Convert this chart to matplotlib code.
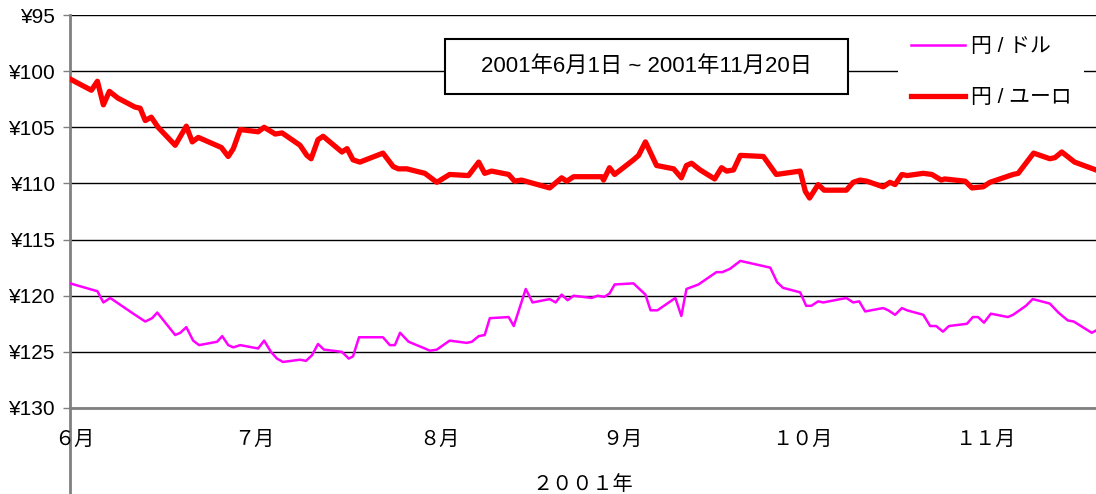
import matplotlib
matplotlib.use("Agg")
import matplotlib.pyplot as plt
from matplotlib.patches import Rectangle

plt.rcParams['font.family'] = ['Liberation Sans', 'Noto Sans CJK JP', 'DejaVu Sans']

# trading-session index (about 120 sessions from 1 Jun to 20 Nov 2001)
euro_t = [0, 2.5, 3.2, 3.9, 4.6, 5.6, 7.6, 8.2, 8.8, 9.5, 10.3, 12.3, 13.6, 14.3, 15.0,
          17.7, 18.5, 19.1, 19.9, 22.0, 22.7, 24.0, 24.8, 26.9, 27.7, 28.2, 29.0, 29.6,
          31.8, 32.4, 33.1, 33.9, 36.6, 37.8, 38.4, 39.4, 41.5, 42.9, 44.4, 46.6, 47.8,
          48.5, 49.3, 51.3, 52.0, 52.8, 56.1, 57.5, 58.1, 58.9, 62.2, 62.4, 63.1, 63.7,
          65.9, 66.5, 67.3, 68.6, 70.6, 71.5, 72.1, 72.7, 73.7, 75.4, 76.2, 76.8, 77.6,
          78.4, 81.1, 82.6, 85.4, 86.0, 86.5, 87.5, 88.2, 90.8, 91.6, 92.4, 93.2, 95.1,
          95.9, 96.5, 97.3, 97.9, 99.8, 100.8, 101.9, 102.3, 104.7, 105.5, 106.8, 107.6,
          110.3, 110.9, 112.7, 114.6, 115.2, 116.0, 117.5, 120.0]
euro = [100.7, 101.7, 100.9, 103.0, 101.8, 102.4, 103.2, 103.3, 104.4, 104.1, 105.0, 106.6,
        104.9, 106.3, 105.9, 106.8, 107.6, 106.9, 105.2, 105.4, 105.0, 105.6, 105.5, 106.6,
        107.5, 107.8, 106.1, 105.8, 107.2, 106.9, 107.9, 108.1, 107.3, 108.5, 108.7, 108.7,
        109.1, 109.9, 109.2, 109.3, 108.1, 109.1, 108.9, 109.2, 109.8, 109.7, 110.4, 109.5,
        109.8, 109.4, 109.4, 109.7, 108.6, 109.2, 107.9, 107.5, 106.3, 108.4, 108.7, 109.5,
        108.4, 108.2, 108.8, 109.6, 108.6, 108.9, 108.8, 107.5, 107.6, 109.2, 108.9, 110.7,
        111.3, 110.1, 110.6, 110.6, 109.9, 109.7, 109.8, 110.3, 109.9, 110.1, 109.2, 109.3,
        109.1, 109.2, 109.7, 109.6, 109.8, 110.4, 110.3, 109.9, 109.2, 109.1, 107.3, 107.8,
        107.7, 107.2, 108.1, 108.8]

dollar_t = [0, 3.2, 3.9, 4.7, 7.4, 8.8, 9.6, 10.2, 12.3, 12.9, 13.6, 14.4, 15.1, 17.2, 17.8,
            18.5, 19.1, 19.9, 22.0, 22.7, 23.5, 24.2, 24.9, 26.9, 27.6, 28.3, 29.0, 29.7,
            31.8, 32.6, 33.1, 33.8, 36.6, 37.4, 38.0, 38.6, 39.6, 41.5, 42.1, 42.9, 44.4,
            46.4, 47.0, 47.8, 48.5, 49.1, 51.3, 51.9, 53.3, 54.1, 56.1, 56.8, 57.5, 58.2,
            58.9, 61.0, 61.7, 62.5, 63.1, 63.7, 65.9, 67.3, 67.9, 68.7, 70.8, 71.5, 72.1,
            73.5, 75.6, 76.3, 77.2, 78.4, 81.9, 82.7, 83.4, 85.4, 86.1, 86.7, 87.5, 88.1,
            90.8, 91.6, 92.3, 93.0, 95.1, 95.7, 96.5, 97.3, 97.9, 99.8, 100.6, 101.3, 102.1,
            102.8, 104.9, 105.6, 106.2, 106.9, 107.7, 109.7, 110.3, 111.8, 112.6, 114.6,
            115.6, 116.7, 117.4, 119.5, 120.0]
dollar = [118.9, 119.6, 120.6, 120.2, 121.6, 122.3, 122.0, 121.5, 123.5, 123.3, 122.8, 124.0,
          124.4, 124.1, 123.6, 124.4, 124.6, 124.4, 124.7, 124.0, 125.0, 125.6, 125.9, 125.7,
          125.8, 125.3, 124.3, 124.8, 125.0, 125.6, 125.4, 123.7, 123.7, 124.4, 124.4, 123.3,
          124.1, 124.7, 124.9, 124.8, 124.0, 124.2, 124.1, 123.6, 123.5, 122.0, 121.9, 122.7,
          119.4, 120.6, 120.3, 120.6, 119.9, 120.4, 120.0, 120.2, 120.0, 120.1, 119.8, 119.0,
          118.9, 119.9, 121.3, 121.3, 120.2, 121.8, 119.4, 119.0, 117.9, 117.9, 117.6, 116.9,
          117.5, 118.8, 119.3, 119.7, 120.9, 120.9, 120.5, 120.6, 120.2, 120.6, 120.5, 121.4,
          121.1, 121.3, 121.7, 121.1, 121.3, 121.7, 122.7, 122.7, 123.2, 122.7, 122.5, 121.9,
          121.9, 122.4, 121.6, 121.9, 121.7, 120.9, 120.3, 120.7, 121.5, 122.2, 122.3, 123.3,
          123.1]

month_t = [0.5, 21.6, 43.2, 64.6, 85.6, 107.0]
month_labels = ["６月", "７月", "８月", "９月", "１０月", "１１月"]
yticks = [95, 100, 105, 110, 115, 120, 125, 130]

fig = plt.figure(figsize=(10.96, 4.94), dpi=100)
ax = fig.add_axes([0.0639, 0.1741, 0.9361, 0.7955])

ax.plot(dollar_t, dollar, color="#ff00ff", lw=1.8, label="円 / ドル", zorder=3)
ax.plot(euro_t, euro, color="#ff0000", lw=3.8, label="円 / ユーロ", zorder=3)

ax.set_xlim(0, 120)
ax.set_ylim(130, 95)
ax.set_yticks(yticks)
ax.set_yticklabels([f"¥{v}" for v in yticks], fontsize=15)
ax.yaxis.grid(True, color="black", lw=1)
ax.set_axisbelow(True)
ax.tick_params(axis="y", direction="out", length=5, width=1, color="#808080", pad=6)
ax.set_xticks([])

for side in ["top", "right"]:
    ax.spines[side].set_visible(False)
ax.spines["bottom"].set_color("#808080")
ax.spines["bottom"].set_linewidth(2)
ax.spines["left"].set_color("#808080")
ax.spines["left"].set_linewidth(2)
ax.spines["left"].set_bounds(95, 137.8)

for t, lab in zip(month_t, month_labels):
    ax.text(t, -0.055, lab, transform=ax.get_xaxis_transform(), ha="center", va="top",
            fontsize=14.5)
ax.text(0.5, -0.17, "２００１年", transform=ax.transAxes, ha="center", va="top", fontsize=14.5)

# period box
ax.add_patch(Rectangle((0.365, 0.8), 0.393, 0.14, transform=ax.transAxes,
                       facecolor="white", edgecolor="black", lw=1.5, zorder=4))
ax.text(0.5615, 0.87, "2001年6月1日 ~ 2001年11月20日", transform=ax.transAxes,
        ha="center", va="center", fontsize=16, zorder=5)

leg = ax.legend(loc="center left", bbox_to_anchor=(0.797, 0.855), fontsize=15,
                frameon=True, fancybox=False, handlelength=2.6, labelspacing=1.55,
                borderpad=0.6, handletextpad=0.3)
leg.get_frame().set_edgecolor("none")
leg.get_frame().set_facecolor("white")
leg.get_frame().set_alpha(1)

fig.savefig("out.png", dpi=100)
